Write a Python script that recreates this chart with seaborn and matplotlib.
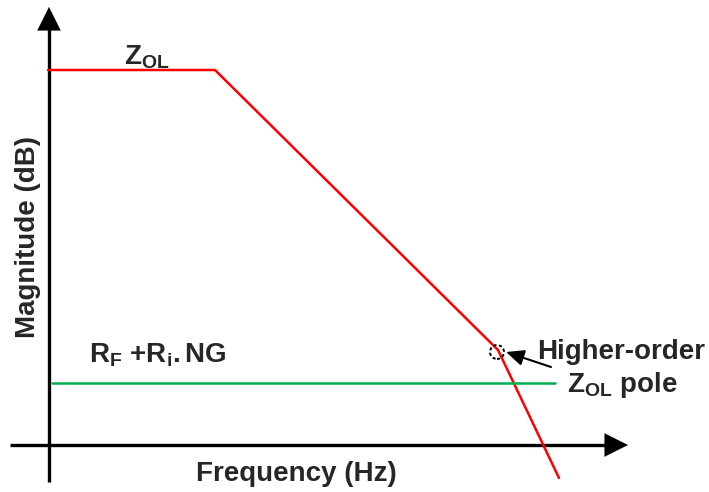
import numpy as np
import pandas as pd
import matplotlib
matplotlib.use("Agg")
import matplotlib.pyplot as plt
import seaborn as sns
from matplotlib.patches import Circle

sns.set_theme(style="white")
plt.rcParams['font.family'] = ['Liberation Sans', 'DejaVu Sans']
plt.rcParams['mathtext.fontset'] = 'custom'
plt.rcParams['mathtext.rm'] = 'Liberation Sans:bold'
plt.rcParams['mathtext.bf'] = 'Liberation Sans:bold'
plt.rcParams['mathtext.it'] = 'Liberation Sans:bold'

# Datos (unidades arbitrarias: frecuencia -> derecha, magnitud -> arriba)
zol_freq = [48, 215, 498, 559]
zol_mag = [422, 422, 142, 14]
rf_freq = [52, 555]
rf_mag = [109, 109]
pole_freq = 497
pole_mag = 140

RED = '#ff0000'
GREEN = '#00b050'

fig = plt.figure(figsize=(7.09, 4.92), dpi=100)
ax = fig.add_axes([0, 0, 1, 1])
ax.set_xlim(0, 709)
ax.set_ylim(0, 492)
ax.axis('off')

# Ejes con flechas
ax.plot([49, 49], [10, 470], color='black', lw=2.4, solid_capstyle='butt')
ax.plot([10, 612], [47, 47], color='black', lw=2.4, solid_capstyle='butt')
ax.annotate('', xy=(49, 485), xytext=(49, 462),
            arrowprops=dict(arrowstyle='-|>,head_length=1.4,head_width=0.7',
                            color='black', lw=0.1, shrinkA=0, shrinkB=0))
ax.annotate('', xy=(628, 47), xytext=(605, 47),
            arrowprops=dict(arrowstyle='-|>,head_length=1.4,head_width=0.7',
                            color='black', lw=0.1, shrinkA=0, shrinkB=0))

# Curvas
zol_df = pd.DataFrame({'freq': zol_freq, 'mag': zol_mag})
rf_df = pd.DataFrame({'freq': rf_freq, 'mag': rf_mag})
sns.lineplot(data=zol_df, x='freq', y='mag', sort=False, color=RED, lw=1.8, ax=ax)
sns.lineplot(data=rf_df, x='freq', y='mag', sort=False, color=GREEN, lw=1.8, ax=ax)

# Polo de orden superior
ax.add_patch(Circle((pole_freq, pole_mag), 7, fill=False, ls=(0, (1.6, 1.3)),
                    lw=1.4, edgecolor='black', zorder=5))
ax.annotate('', xy=(506, 140), xytext=(551, 125),
            arrowprops=dict(arrowstyle='-|>,head_length=0.9,head_width=0.4',
                            color='black', lw=1.5, shrinkA=0, shrinkB=0))

# Textos
fs = 20
ax.text(124, 435, r'$\mathbf{Z_{OL}}$', fontsize=fs, ha='left', va='center')
ax.text(89, 137, r'$\mathbf{R_F}$ $\mathbf{+ R_i.NG}$', fontsize=fs, ha='left', va='center')
ax.text(537, 140, 'Higher-order', fontsize=fs, fontweight='bold', ha='left', va='center')
ax.text(567, 107, r'$\mathbf{Z_{OL}}$ pole', fontsize=fs, fontweight='bold',
        ha='left', va='center')
ax.text(296, 18, 'Frequency (Hz)', fontsize=fs, fontweight='bold', ha='center', va='center')
ax.text(28, 255, 'Magnitude (dB)', fontsize=fs, fontweight='bold', ha='center',
        va='center', rotation=90)

fig.savefig('out.png', dpi=100, facecolor='white')
plt.close(fig)
